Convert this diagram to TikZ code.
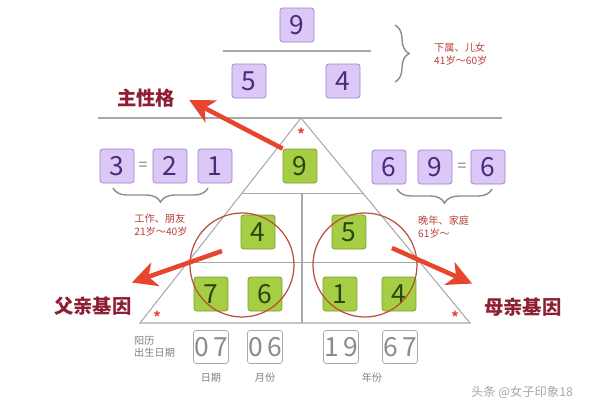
\documentclass[tikz,border=0pt]{standalone}
\usepackage{fontspec}
\setmainfont{Noto Sans CJK SC}
\usetikzlibrary{arrows.meta, calc, decorations.pathreplacing}
\definecolor{boxPurple}{HTML}{DCC8F7}
\definecolor{edgePurple}{HTML}{9C80CF}
\definecolor{numPurple}{HTML}{4B2C7C}
\definecolor{boxGreen}{HTML}{A6CE44}
\definecolor{edgeGreen}{HTML}{7A9C2E}
\definecolor{numGreen}{HTML}{2E4410}
\definecolor{arrowRed}{HTML}{E8452F}
\definecolor{labelRed}{HTML}{8E1E34}
\definecolor{noteRed}{HTML}{B5423A}
\definecolor{lineGray}{HTML}{A8A8A8}
\definecolor{ringRed}{HTML}{B8503A}

\tikzset{
  numbox/.style={draw=edgePurple, fill=boxPurple, rounded corners=1.5pt,
    minimum size=0.68cm, inner sep=0pt, text=numPurple,
    font=\fontsize{15}{15}\selectfont},
  genebox/.style={numbox, draw=edgeGreen, fill=boxGreen, text=numGreen},
  datebox/.style={numbox, draw=lineGray, fill=white, text=gray!90,
    minimum height=0.66cm, minimum width=0.7cm},
  bigarrow/.style={draw=arrowRed, line width=2.6pt,
    -{Stealth[length=14pt, width=14pt, inset=4pt]}},
  mainlabel/.style={text=labelRed, font=\bfseries\fontsize{11}{11}\selectfont},
  note/.style={text=noteRed, font=\fontsize{5.8}{7.2}\selectfont, align=left},
  greynote/.style={text=gray, font=\fontsize{5.8}{7.2}\selectfont, align=left},
  guide/.style={draw=lineGray, line width=0.6pt},
  curly/.style={draw=gray!90, line width=0.8pt,
    decorate, decoration={brace, amplitude=8pt}},
  star/.style={text=arrowRed, font=\bfseries\fontsize{8}{8}\selectfont, inner sep=0pt}
}

\begin{document}
\begin{tikzpicture}[x=0.02cm, y=-0.02cm]
  \useasboundingbox (0,0) rectangle (600,400);

  % upper block
  \node[numbox] (top9) at (297,25) {9};
  \draw[guide] (223,51) -- (371,51);
  \node[numbox] (top5) at (249,81) {5};
  \node[numbox] (top4) at (343,81) {4};
  \draw[curly] (395,25) -- (395,82);
  \node[note, anchor=west] (topnote) at (428,54) {下属、儿女\\41岁～60岁};

  % divider and pyramid
  \draw[guide] (98,118) -- (502,118);
  \coordinate (apex) at (301,118);
  \coordinate (bl) at (140,323);
  \coordinate (br) at (470,323);
  \draw[guide] (apex) -- (bl) -- (br) -- cycle;
  \draw[guide] ($(apex)!0.366!(bl)$) -- ($(apex)!0.366!(br)$);
  \draw[guide] ($(apex)!0.707!(bl)$) -- ($(apex)!0.707!(br)$);
  \draw[guide] (302,193) -- (302,323);
  \node[star] (s1) at (301,134) {*};
  \node[star] (s2) at (157,317) {*};
  \node[star] (s3) at (455,317) {*};

  % green cells
  \node[genebox] (g9) at (300,166) {9};
  \foreach \n/\x/\y/\v in {ga/258/232/4, gb/211/294/7, gc/265/294/6,
                           gd/349/232/5, ge/340/294/1, gf/399/294/4}
    \node[genebox] (\n) at (\x,\y) {\v};

  % circles
  \draw[ringRed, line width=0.7pt] (242,265) circle (52);
  \draw[ringRed, line width=0.7pt] (365,265) circle (52);

  % left row
  \node[numbox] (l3) at (117,166) {3};
  \node[text=gray, font=\small] (leq) at (143,166) {=};
  \node[numbox] (l2) at (170,166) {2};
  \node[numbox] (l1) at (215,166) {1};
  \draw[curly] (208,188) -- (113,188);
  \node[note] (leftnote) at (161,225) {工作、朋友\\21岁～40岁};

  % right row
  \node[numbox] (r6) at (389,167) {6};
  \node[numbox] (r9) at (435,167) {9};
  \node[text=gray, font=\small] (req) at (462,167) {=};
  \node[numbox] (r6b) at (488,167) {6};
  \draw[curly] (492,189) -- (397,189);
  \node[note, anchor=west] (rightnote) at (412,227) {晚年、家庭\\61岁～};

  % labels and arrows
  \node[mainlabel] (zhu) at (146,98) {主性格};
  \node[mainlabel] (fu) at (93,306) {父亲基因};
  \node[mainlabel] (mu) at (523,307) {母亲基因};
  \coordinate (ltail) at (222,251);
  \coordinate (rtail) at (392,248);
  \draw[bigarrow] (g9.north west) -- ($(zhu.east)+(8,2)$);
  \draw[bigarrow] (ltail) -- ($(fu.north east)+(-6,-8)$);
  \draw[bigarrow] (rtail) -- ($(mu.north west)+(-6,-8)$);

  % birth date row
  \node[greynote, anchor=west] (yangli) at (128,347) {阳历\\出生日期};
  \foreach \n/\x/\v in {d07/211/0\,7, d06/265/0\,6, d19/341/1\,9, d67/400/6\,7}
    \node[datebox] (\n) at (\x,347) {\v};
  \node[greynote] (day) at (211,378) {日期};
  \node[greynote] (month) at (265,378) {月份};
  \node[greynote] (year) at (372,378) {年份};

  \node[text=gray!70, font=\fontsize{7}{7}\selectfont] (mark) at (522,392) {头条 @女子印象18};
\end{tikzpicture}
\end{document}
